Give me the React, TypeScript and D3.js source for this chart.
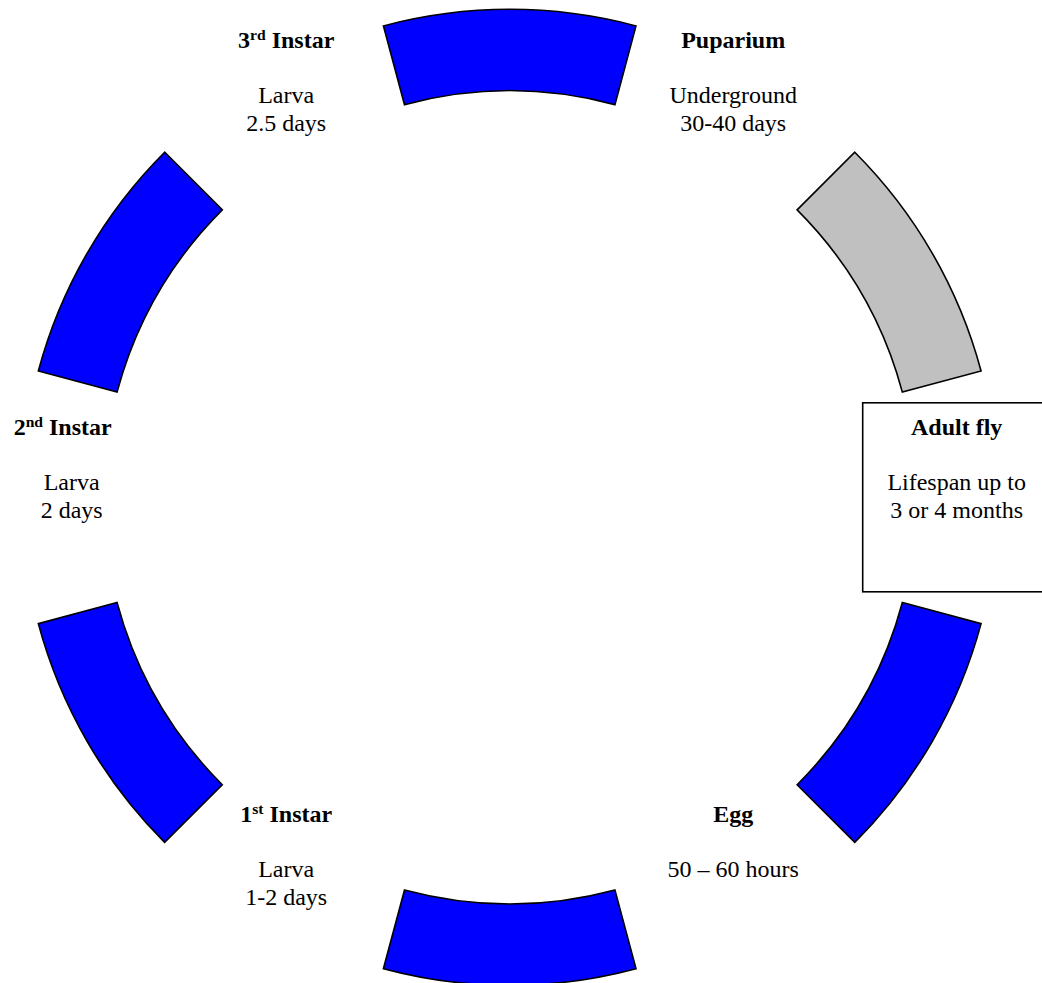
import React from "react";
import * as d3 from "d3";

// ---- data ----
const TITLE_MAIN = ["3", "Puparium", "Adult fly", "Egg", "1", "2"];
const TITLE_SUP = ["rd", "", "", "", "st", "nd"];
const TITLE_REST = [" Instar", "", "", "", " Instar", " Instar"];
const DETAILS = [
  ["Larva", "2.5 days"],
  ["Underground", "30-40 days"],
  ["Lifespan up to", "3 or 4 months"],
  ["50 \u2013 60 hours"],
  ["Larva", "1-2 days"],
  ["Larva", "2 days"],
];
const BOXED = [false, false, true, false, false, false];
// connectors between consecutive stages (clockwise, starting between 3rd Instar and Puparium)
const CONNECTOR_KIND = ["larval", "pupal", "larval", "larval", "larval", "larval"];

// ---- layout ----
const W = 1042;
const H = 983;
const CX = 509.7;
const CY = 497.3;
const R_IN = 406.5;
const R_OUT = 488;
const R_LABEL = 447;
const SPAN = 30; // degrees per connector
const FONT = "'Liberation Serif', 'Times New Roman', serif";

export default function App() {
  const n = TITLE_MAIN.length;
  const labelAngle = d3.scaleLinear().domain([0, n]).range([-30, 330]);
  const connAngle = d3.scaleLinear().domain([0, n]).range([0, 360]);
  const color = d3
    .scaleOrdinal<string, string>()
    .domain(["larval", "pupal"])
    .range(["#0000FF", "#C0C0C0"]);
  const rad = (deg: number) => (deg * Math.PI) / 180;
  const arc = d3.arc<any>().innerRadius(R_IN).outerRadius(R_OUT);

  return (
    <svg
      width={W}
      height={H}
      style={{ position: "absolute", left: 0, top: 0, display: "block", background: "#fff" }}
    >
      <g transform={`translate(${CX},${CY})`}>
        {CONNECTOR_KIND.map((k, i) => {
          const c = connAngle(i);
          const d = arc({ startAngle: rad(c - SPAN / 2), endAngle: rad(c + SPAN / 2) }) as string;
          return (
            <path key={i} d={d} fill={color(k)} stroke="#000" strokeWidth={1.6} strokeLinejoin="miter" />
          );
        })}
      </g>
      {TITLE_MAIN.map((t, i) => {
        const a = rad(labelAngle(i));
        const x = CX + R_LABEL * Math.sin(a);
        const yc = CY - R_LABEL * Math.cos(a);
        const yTitle = yc - 62;
        const bodyDx = i === 5 ? 9 : 0;
        return (
          <g key={i}>
            {BOXED[i] && (
              <rect
                x={x - 94}
                y={yc - 94.5}
                width={188}
                height={189}
                fill="#fff"
                stroke="#000"
                strokeWidth={1.6}
              />
            )}
            <text
              x={x}
              y={yTitle}
              textAnchor="middle"
              fontFamily={FONT}
              fontSize={24}
              fontWeight="bold"
              fill="#000"
            >
              <tspan>{t}</tspan>
              {TITLE_SUP[i] && (
                <tspan fontSize={15.6} dy={-8.5}>
                  {TITLE_SUP[i]}
                </tspan>
              )}
              {TITLE_REST[i] && <tspan dy={TITLE_SUP[i] ? 8.5 : 0}>{TITLE_REST[i]}</tspan>}
            </text>
            {DETAILS[i].map((line, j) => (
              <text
                key={j}
                x={x + bodyDx}
                y={yTitle + 55 + j * 27.5}
                textAnchor="middle"
                fontFamily={FONT}
                fontSize={24}
                fill="#000"
              >
                {line}
              </text>
            ))}
          </g>
        );
      })}
    </svg>
  );
}
